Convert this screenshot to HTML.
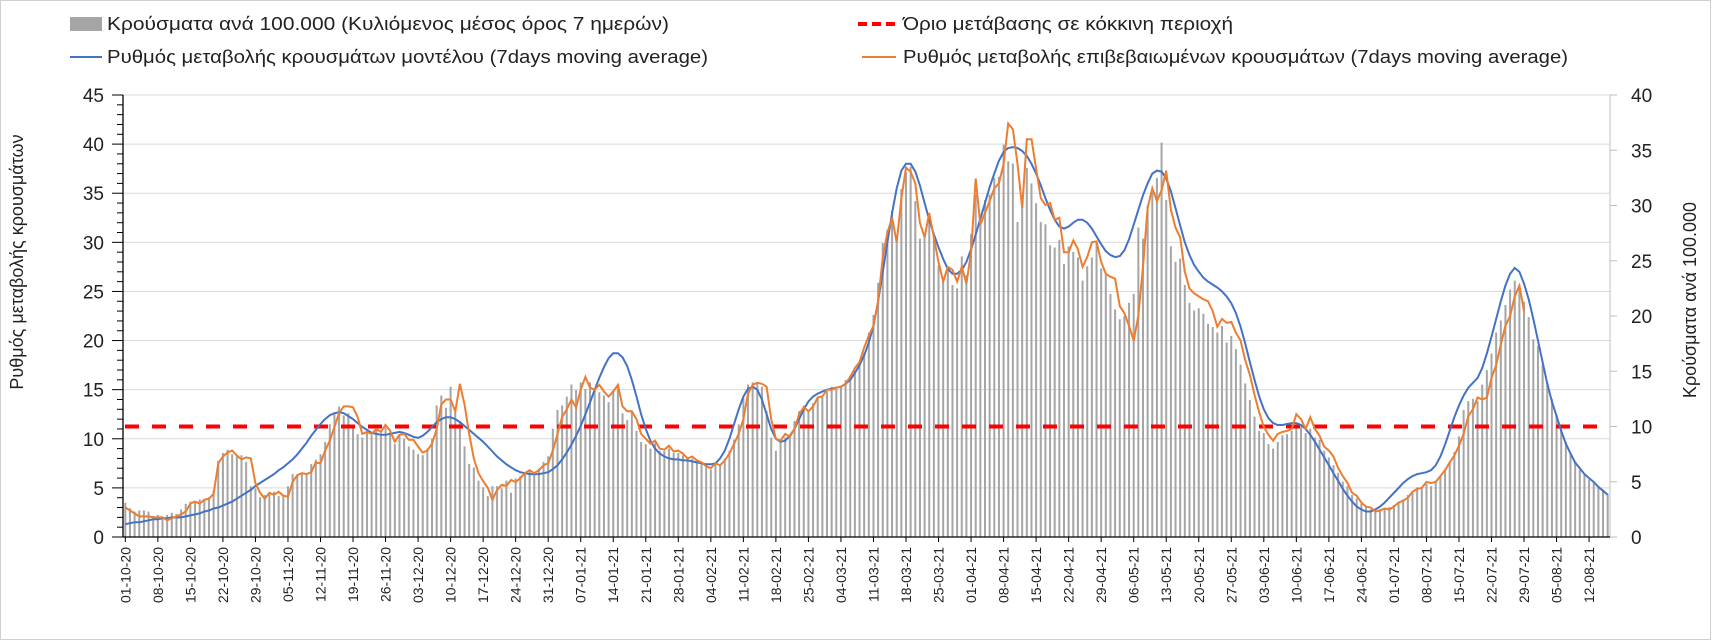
<!DOCTYPE html>
<html><head><meta charset="utf-8">
<style>
html,body{margin:0;padding:0;background:#fff;}
svg{display:block;font-family:"Liberation Sans","DejaVu Sans",sans-serif;}
</style></head>
<body>
<svg id="chart" width="1712" height="641" viewBox="0 0 1712 641" xmlns="http://www.w3.org/2000/svg">
<rect x="0.5" y="0.5" width="1710" height="639" fill="#fff" stroke="#d0d0d0"/>
<g id="grid"></g>
<g id="bars"></g>
<line id="redline" x1="125" x2="1598" stroke="#ff0000" stroke-width="4" stroke-dasharray="14,13"/>
<path id="blue" fill="none" stroke="#4472c4" stroke-width="2"/>
<path id="orange" fill="none" stroke="#ed7d31" stroke-width="2"/>
<g id="axes"></g>
<text transform="translate(23,262) rotate(-90)" text-anchor="middle" font-size="18" fill="#222">Ρυθμός μεταβολής κρουσμάτων</text>
<text transform="translate(1696,300) rotate(-90)" text-anchor="middle" font-size="18" fill="#222">Κρούσματα ανά 100.000</text>
<g>
  <g>
    <rect x="70" y="17" width="32" height="14" fill="#a5a5a5"/>
    <text x="107" y="30" font-size="18" fill="#222" textLength="562" lengthAdjust="spacingAndGlyphs">Κρούσματα ανά 100.000 (Κυλιόμενος μέσος όρος 7 ημερών)</text>
  </g>
  <g>
    <line x1="858" y1="24" x2="896" y2="24" stroke="#ff0000" stroke-width="4" stroke-dasharray="9,5"/>
    <text x="903" y="30" font-size="18" fill="#222" textLength="330" lengthAdjust="spacingAndGlyphs">Όριο μετάβασης σε κόκκινη περιοχή</text>
  </g>
  <g>
    <line x1="70" y1="57" x2="102" y2="57" stroke="#4472c4" stroke-width="2"/>
    <text x="107" y="63" font-size="18" fill="#222" textLength="601" lengthAdjust="spacingAndGlyphs">Ρυθμός μεταβολής κρουσμάτων μοντέλου (7days moving average)</text>
  </g>
  <g>
    <line x1="862" y1="57" x2="896" y2="57" stroke="#ed7d31" stroke-width="2"/>
    <text x="903" y="63" font-size="18" fill="#222" textLength="665" lengthAdjust="spacingAndGlyphs">Ρυθμός μεταβολής επιβεβαιωμένων κρουσμάτων (7days moving average)</text>
  </g>
</g>
</svg>
<script>
const modelRate = [
1.3,1.4,1.5,1.5,1.6,1.7,1.8, 1.8,1.9,1.9,2.0,2.0,2.0,2.1, 2.2,2.3,2.4,2.6,2.7,2.9,3.0, 3.2,3.4,3.6,3.9,4.2,4.5,4.8,
5.2,5.5,5.8,6.1,6.4,6.8,7.1, 7.5,7.9,8.4,9.0,9.6,10.3,10.9, 11.5,12.0,12.4,12.6,12.7,12.6,12.3, 12.0,11.6,11.2,10.9,10.6,10.5,10.4,
10.4,10.5,10.6,10.7,10.6,10.4,10.2, 10.1,10.3,10.7,11.2,11.7,12.0,12.2, 12.2,12.0,11.7,11.3,10.9,10.5,10.1, 9.7,9.2,8.7,8.2,7.8,7.4,7.1,
6.8,6.6,6.5,6.4,6.4,6.4,6.5, 6.6,6.9,7.3,7.9,8.6,9.4,10.3, 11.3,12.5,13.7,15.0,16.2,17.3,18.2, 18.7,18.7,18.3,17.4,16.0,14.3,12.5,
11.0,9.8,9.0,8.5,8.2,8.0,7.9, 7.9,7.8,7.8,7.7,7.6,7.5,7.4, 7.4,7.5,8.0,8.8,10.0,11.5,13.0, 14.3,15.1,15.3,15.0,14.0,12.5,11.0,
10.0,9.7,9.8,10.3,11.0,12.0,13.0, 13.8,14.3,14.6,14.8,15.0,15.1,15.2, 15.3,15.6,16.0,16.7,17.5,18.5,19.8, 21.5,24,27,30,33,35.5,37.3,
38,38,37.2,35.8,34,32.3,30.8, 29.5,28.3,27.3,26.8,26.8,27.2,28, 29.3,30.8,32.4,34,35.6,37,38.3, 39.2,39.6,39.7,39.6,39.3,38.8,38,
37,35.8,34.5,33.3,32.3,31.6,31.4, 31.6,32,32.3,32.3,32,31.4,30.6, 29.8,29.1,28.7,28.5,28.6,29.2,30.3, 31.8,33.3,34.8,36,37,37.3,37.2,
36.5,35.2,33.5,31.7,30,28.7,27.7, 27,26.4,26,25.7,25.4,25,24.5, 23.8,22.8,21.4,19.7,17.8,16,14.3, 13,12.1,11.6,11.4,11.4,11.5,11.6,
11.6,11.4,11,10.4,9.7,8.9,8.1, 7.3,6.5,5.7,4.9,4.2,3.6,3.1, 2.8,2.6,2.6,2.8,3.1,3.5,4.0, 4.5,5.0,5.5,5.9,6.2,6.4,6.5,
6.6,6.8,7.3,8.2,9.4,10.8,12.2, 13.4,14.4,15.2,15.7,16.2,17.2,18.7, 20.4,22.2,24,25.6,26.8,27.4,27, 25.8,24.2,22.2,20,17.8,15.6,13.8,
12.3,10.8,9.5,8.5,7.6,7.0,6.4, 6.0,5.6,5.1,4.7,4.3
];
const confirmedRate = [
3.0,2.7,2.4,2.1,2.1,2.1,2.0, 2.0,2.0,1.7,1.9,2.1,2.3,2.6, 3.4,3.6,3.4,3.8,3.9,4.4,7.5, 8.2,8.6,8.8,8.3,7.9,8.1,8.0,
5.5,4.5,3.9,4.5,4.3,4.6,4.2, 4.1,5.6,6.3,6.5,6.4,6.6,7.6, 7.5,8.8,9.8,11.2,12.6,13.3,13.3, 13.2,12.2,10.5,10.7,10.5,11.0,10.7,
11.4,10.8,9.7,10.4,10.5,9.9,9.9, 9.2,8.6,8.8,9.5,11.0,13.5,14.0, 14.0,12.8,15.6,13.5,10.5,8.0,6.5, 5.7,5.0,3.8,4.8,5.3,5.2,5.8,
5.6,6.0,6.5,6.8,6.5,6.8,7.3, 7.5,8.8,10.5,12.2,13.0,14.0,13.2, 15.0,16.3,15.2,15.0,15.5,14.8,14.3, 14.8,15.5,13.3,12.8,12.8,12.0,10.5,
10.0,9.5,9.8,9.0,8.9,9.3,8.7, 8.8,8.5,8.0,8.2,7.8,7.6,7.2, 7.0,7.5,7.3,7.8,8.5,9.5,10.5, 12.0,14.6,15.5,15.7,15.6,15.3,12.0,
10.0,9.8,10.5,10.2,11.0,12.5,13.2, 12.8,13.3,14.2,14.3,15.0,15.0,15.2, 15.3,15.6,16.3,17.2,17.8,19.3,20.5, 21.5,24.0,28.5,31.0,32.5,30.0,34.5,
37.6,37.2,36.0,32.0,30.5,33.0,30.5, 28.0,26.0,27.5,27.2,26.0,27.5,25.8, 29.0,36.5,31.8,33.0,34.2,35.5,36.0, 38.0,42.1,41.5,38.0,33.5,40.5,40.5,
37.5,34.5,33.8,34.0,32.3,32.5,29.0, 29.0,30.2,29.3,27.5,28.5,30.0,30.1, 28.0,26.8,26.5,26.3,23.5,22.8,21.5, 20.0,22.5,27.5,33.5,35.5,34.2,35.3,
37.3,33.3,31.5,30.5,27.0,25.3,24.8, 24.5,24.2,24.0,23.0,21.4,22.2,21.8, 21.9,20.8,20.0,18.0,16.5,14.5,12.7, 11.2,10.4,9.8,10.5,10.7,10.8,11.0,
12.5,12.0,11.0,12.2,11.0,10.3,9.2, 8.8,8.2,7.0,6.2,5.5,4.5,4.2, 3.5,3.1,3.0,2.6,2.7,2.9,2.8, 3.1,3.5,3.7,4.0,4.6,4.9,5.0,
5.6,5.5,5.6,6.2,6.8,7.6,8.3, 9.3,10.5,12.3,13.0,14.2,14.0,14.2, 16.2,17.5,19.6,21.5,22.5,24.5,25.6, 23.0
];
const casesPer100k = [
3.1,2.6,2.3,2.4,2.4,2.3,1.9, 2.0,1.6,2.0,2.2,2.1,2.5,3.0, 3.2,3.1,3.4,3.3,3.6,4.2,6.9, 7.6,7.9,7.5,7.3,7.4,6.8,4.6,
4.4,3.6,3.8,3.9,4.1,3.7,3.8, 4.6,5.7,5.6,5.8,5.8,6.6,7.0, 7.5,8.6,10.2,11.2,11.8,11.0,11.2, 10.0,9.3,9.0,9.6,9.2,9.8,9.4,
9.9,9.5,8.4,9.2,8.9,8.2,7.9, 7.5,7.4,8.0,8.9,11.9,12.8,11.7, 13.6,11.3,10.5,8.2,6.6,6.3,5.1, 4.5,3.7,4.6,4.6,4.4,5.1,4.0,
5.3,5.5,5.8,6.0,5.8,6.2,6.8, 7.3,9.8,11.5,11.9,12.7,13.8,13.3, 14.0,13.4,14.0,13.4,13.1,12.8,12.2, 13.3,13.7,11.2,10.6,11.4,9.6,8.6,
8.4,8.0,8.5,7.8,7.8,8.0,7.6, 7.6,7.4,7.2,7.1,6.8,6.6,6.4, 6.1,6.6,6.6,7.1,7.8,8.8,10.2, 12.6,13.8,14.0,14.0,13.6,11.4,9.0,
7.8,8.8,9.0,9.2,10.5,11.4,11.9, 11.4,12.1,12.6,12.8,13.2,13.6,13.4, 13.6,14.2,14.6,15.1,15.8,16.7,18.5, 20.1,23.0,26.6,27.8,29.5,26.8,31.5,
33.0,33.5,30.4,27.0,27.5,29.0,27.2, 24.6,23.5,24.2,22.8,22.5,25.4,23.7, 27.4,31.0,28.5,30.5,31.0,32.5,32.6, 35.5,34.0,33.8,28.5,30.2,33.4,32.0,
30.2,28.5,28.3,26.4,26.2,26.9,24.7, 26.3,25.8,25.3,23.2,24.5,25.3,26.8, 24.3,23.9,22.0,20.6,19.7,20.0,21.2, 22.0,28.0,27.0,30.0,31.5,32.5,35.7,
30.5,26.3,24.9,25.2,22.8,21.2,20.5, 20.7,20.2,19.3,19.0,18.5,19.1,17.6, 18.2,17.0,15.6,13.9,12.4,10.9,9.6, 9.4,8.4,8.0,8.6,9.2,9.3,9.6,
10.2,10.0,9.4,9.8,9.0,8.8,7.8, 7.2,6.5,5.8,5.0,4.6,3.8,3.5, 3.0,2.7,2.5,2.4,2.5,2.6,2.7, 2.9,3.1,3.4,3.8,4.0,4.5,4.4,
4.8,4.6,5.1,5.5,6.1,6.8,7.7, 9.1,11.5,12.3,12.5,12.3,13.8,15.1, 16.6,18.5,19.6,21.0,22.4,23.2,22.8, 21.3,19.9,17.9,17.3,15.6,14.0,12.5,
11.1,9.8,8.6,7.5,6.8,6.1,5.6, 5.2,4.9,4.6,4.3,3.9
];
const leftTicks = [0,5,10,15,20,25,30,35,40,45];
const rightTicks = [0,5,10,15,20,25,30,35,40];
const thresholdValue = 10;
const startDate = [2020, 9, 1]; // 01-10-2020 (month index 9)
const nDays = 320;

const NS = "http://www.w3.org/2000/svg";
const X0 = 123, X1 = 1610, Y0 = 537, YT = 95;
const band = (X1 - X0) / nDays;
const xc = d => X0 + (d + 0.5) * band;
const yL = v => Y0 - v / 45 * (Y0 - YT);
const yR = v => Y0 - v / 40 * (Y0 - YT);
function mk(tag, attrs, parent) {
  const el = document.createElementNS(NS, tag);
  for (const k in attrs) el.setAttribute(k, attrs[k]);
  parent.appendChild(el);
  return el;
}
const grid = document.getElementById('grid');
leftTicks.forEach(v => {
  if (v === 0) return;
  const l = mk('line', {x1: X0, x2: X1, y1: yL(v), y2: yL(v), stroke: '#d9d9d9', 'stroke-width': 1}, grid);
  
  
});
const bars = document.getElementById('bars');
casesPer100k.forEach((v, d) => {
  const r = mk('rect', {x: xc(d) - 1, y: yR(v), width: 2, height: Y0 - yR(v), fill: '#a5a5a5'}, bars);
  
  
});
const red = document.getElementById('redline');
red.setAttribute('y1', yR(thresholdValue));
red.setAttribute('y2', yR(thresholdValue));
const line = arr => arr.map((v, d) => (d ? 'L' : 'M') + xc(d).toFixed(1) + ',' + yL(v).toFixed(1)).join('');
document.getElementById('blue').setAttribute('d', line(modelRate));
document.getElementById('orange').setAttribute('d', line(confirmedRate));

const axes = document.getElementById('axes');
mk('line', {x1: X0, x2: X0, y1: YT, y2: Y0, stroke: '#000', 'stroke-width': 1.3}, axes);
mk('line', {x1: X1, x2: X1, y1: YT, y2: Y0, stroke: '#bfbfbf', 'stroke-width': 1}, axes);
mk('line', {x1: X0, x2: X1, y1: Y0, y2: Y0, stroke: '#000', 'stroke-width': 1.3}, axes);
for (let v = 0; v <= 45; v++) {
  const major = v % 5 === 0;
  mk('line', {x1: major ? 112 : 117, x2: X0, y1: yL(v), y2: yL(v), stroke: '#000', 'stroke-width': 1}, axes);
}
leftTicks.forEach(v => {
  const t = mk('text', {x: 104, y: yL(v) + 7, 'text-anchor': 'end', 'font-size': 19, fill: '#222'}, axes);
  
  
  t.textContent = v;
});
rightTicks.forEach(v => {
  mk('line', {x1: X1, x2: X1 + 7, y1: yR(v), y2: yR(v), stroke: '#bfbfbf', 'stroke-width': 1}, axes);
  const t = mk('text', {x: 1631, y: yR(v) + 7, 'font-size': 19, fill: '#222'}, axes);
  
  
  t.textContent = v;
});
const p2 = n => String(n).padStart(2, '0');
for (let d = 0; d < nDays; d += 7) {
  const dt = new Date(Date.UTC(startDate[0], startDate[1], startDate[2] + d));
  const lbl = p2(dt.getUTCDate()) + '-' + p2(dt.getUTCMonth() + 1) + '-' + String(dt.getUTCFullYear()).slice(2);
  mk('line', {x1: xc(d), x2: xc(d), y1: Y0, y2: Y0 + 5, stroke: '#000', 'stroke-width': 1}, axes);
  const t = mk('text', {transform: 'translate(' + (xc(d) + 5).toFixed(1) + ',547) rotate(-90)', 'text-anchor': 'end', 'font-size': 14, fill: '#222'}, axes);
  
  
  t.textContent = lbl;
}
</script>
</body></html>
